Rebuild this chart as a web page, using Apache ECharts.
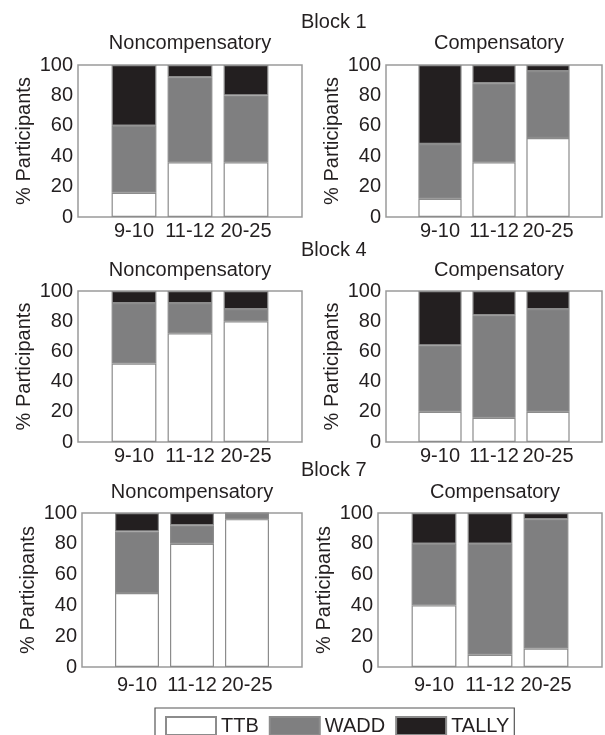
<!DOCTYPE html>
<html>
<head>
<meta charset="utf-8">
<script src="https://cdn.jsdelivr.net/npm/echarts@6/dist/echarts.min.js"></script>
<style>html,body{margin:0;padding:0;background:#fff;}#c{width:605px;height:735px;}</style>
</head>
<body>
<div id="c"></div>
<script>
// ---- data ----
const categories = ['9-10', '11-12', '20-25'];
const strategies = ['TTB', 'WADD', 'TALLY'];
const blockLabels = ['Block 1', 'Block 4', 'Block 7'];
const conditionLabels = ['Noncompensatory', 'Compensatory'];
const yTicks = [0, 20, 40, 60, 80, 100];

// Block 1
const b1NonTTB = [16, 36, 36];
const b1NonWADD = [44, 56, 44];
const b1NonTALLY = [40, 8, 20];
const b1CompTTB = [12, 36, 52];
const b1CompWADD = [36, 52, 44];
const b1CompTALLY = [52, 12, 4];
// Block 4
const b4NonTTB = [52, 72, 80];
const b4NonWADD = [40, 20, 8];
const b4NonTALLY = [8, 8, 12];
const b4CompTTB = [20, 16, 20];
const b4CompWADD = [44, 68, 68];
const b4CompTALLY = [36, 16, 12];
// Block 7
const b7NonTTB = [48, 80, 96];
const b7NonWADD = [40, 12, 4];
const b7NonTALLY = [12, 8, 0];
const b7CompTTB = [40, 8, 12];
const b7CompWADD = [40, 72, 84];
const b7CompTALLY = [20, 20, 4];

const panelData = [
  [b1NonTTB, b1NonWADD, b1NonTALLY],
  [b1CompTTB, b1CompWADD, b1CompTALLY],
  [b4NonTTB, b4NonWADD, b4NonTALLY],
  [b4CompTTB, b4CompWADD, b4CompTALLY],
  [b7NonTTB, b7NonWADD, b7NonTALLY],
  [b7CompTTB, b7CompWADD, b7CompTALLY]
];

// ---- layout / style ----
const grids = [
  {left: 78, top: 65, width: 224, height: 152},
  {left: 386, top: 65, width: 226, height: 152},
  {left: 78, top: 291, width: 224, height: 151},
  {left: 386, top: 291, width: 226, height: 151},
  {left: 82, top: 513, width: 220, height: 154},
  {left: 378, top: 513, width: 234, height: 154}
];
const xLabelMargin = [4, 4, 4, 4, 8, 8];
const blockY = [22, 250, 470];
const condY = [43, 270, 492];
const colors = ['#ffffff', '#7f7f80', '#231f20'];
const textColor = '#231f20';
const font = 'Liberation Sans, Arial, Helvetica, sans-serif';
const fs = 20;

const chart = echarts.init(document.getElementById('c'), null, {renderer: 'canvas'});

const xCats = [''].concat(categories, ['']);
const option = {
  animation: false,
  backgroundColor: '#fff',
  textStyle: {fontFamily: font, color: textColor},
  grid: grids.map(g => Object.assign({show: true, borderColor: '#9a9a9a', borderWidth: 1.5, backgroundColor: 'transparent'}, g)),
  xAxis: grids.map((g, i) => ({
    type: 'category', gridIndex: i, data: xCats, boundaryGap: false,
    axisLine: {show: false}, axisTick: {show: false}, splitLine: {show: false},
    axisLabel: {fontSize: fs, color: textColor, fontFamily: font, margin: xLabelMargin[i], interval: 0}
  })),
  yAxis: grids.map((g, i) => ({
    type: 'value', gridIndex: i, min: yTicks[0], max: yTicks[yTicks.length - 1], interval: 20,
    name: '% Participants', nameLocation: 'middle', nameGap: 44,
    nameTextStyle: {fontSize: fs, color: textColor, fontFamily: font},
    axisLine: {show: false}, axisTick: {show: false}, splitLine: {show: false},
    axisLabel: {fontSize: fs, color: textColor, fontFamily: font, margin: 5}
  })),
  legend: {
    data: strategies, left: 155, top: 708, orient: 'horizontal',
    icon: 'rect', itemWidth: 50, itemHeight: 18, itemGap: 10,
    padding: [8, 5, 12, 10], borderColor: '#555', borderWidth: 1.2,
    textStyle: {fontSize: fs, color: textColor, fontFamily: font}
  },
  series: [],
  graphic: []
};

panelData.forEach((pd, i) => {
  strategies.forEach((s, k) => {
    option.series.push({
      name: s, type: 'bar', stack: 'p' + i, xAxisIndex: i, yAxisIndex: i,
      barWidth: '80%',
      data: [null].concat(pd[k], [null]),
      itemStyle: {color: colors[k], borderColor: '#8c8c8c', borderWidth: 1.2},
      emphasis: {disabled: true}
    });
  });
});

blockLabels.forEach((b, r) => {
  option.graphic.push({type: 'text', x: 301, y: blockY[r],
    style: {text: b, font: fs + 'px ' + font, fill: textColor, textAlign: 'left', textVerticalAlign: 'middle'}});
  conditionLabels.forEach((c, j) => {
    const g = grids[r * 2 + j];
    option.graphic.push({type: 'text', x: g.left + g.width / 2, y: condY[r],
      style: {text: c, font: fs + 'px ' + font, fill: textColor, textAlign: 'center', textVerticalAlign: 'middle'}});
  });
});

chart.setOption(option);
</script>
</body>
</html>
